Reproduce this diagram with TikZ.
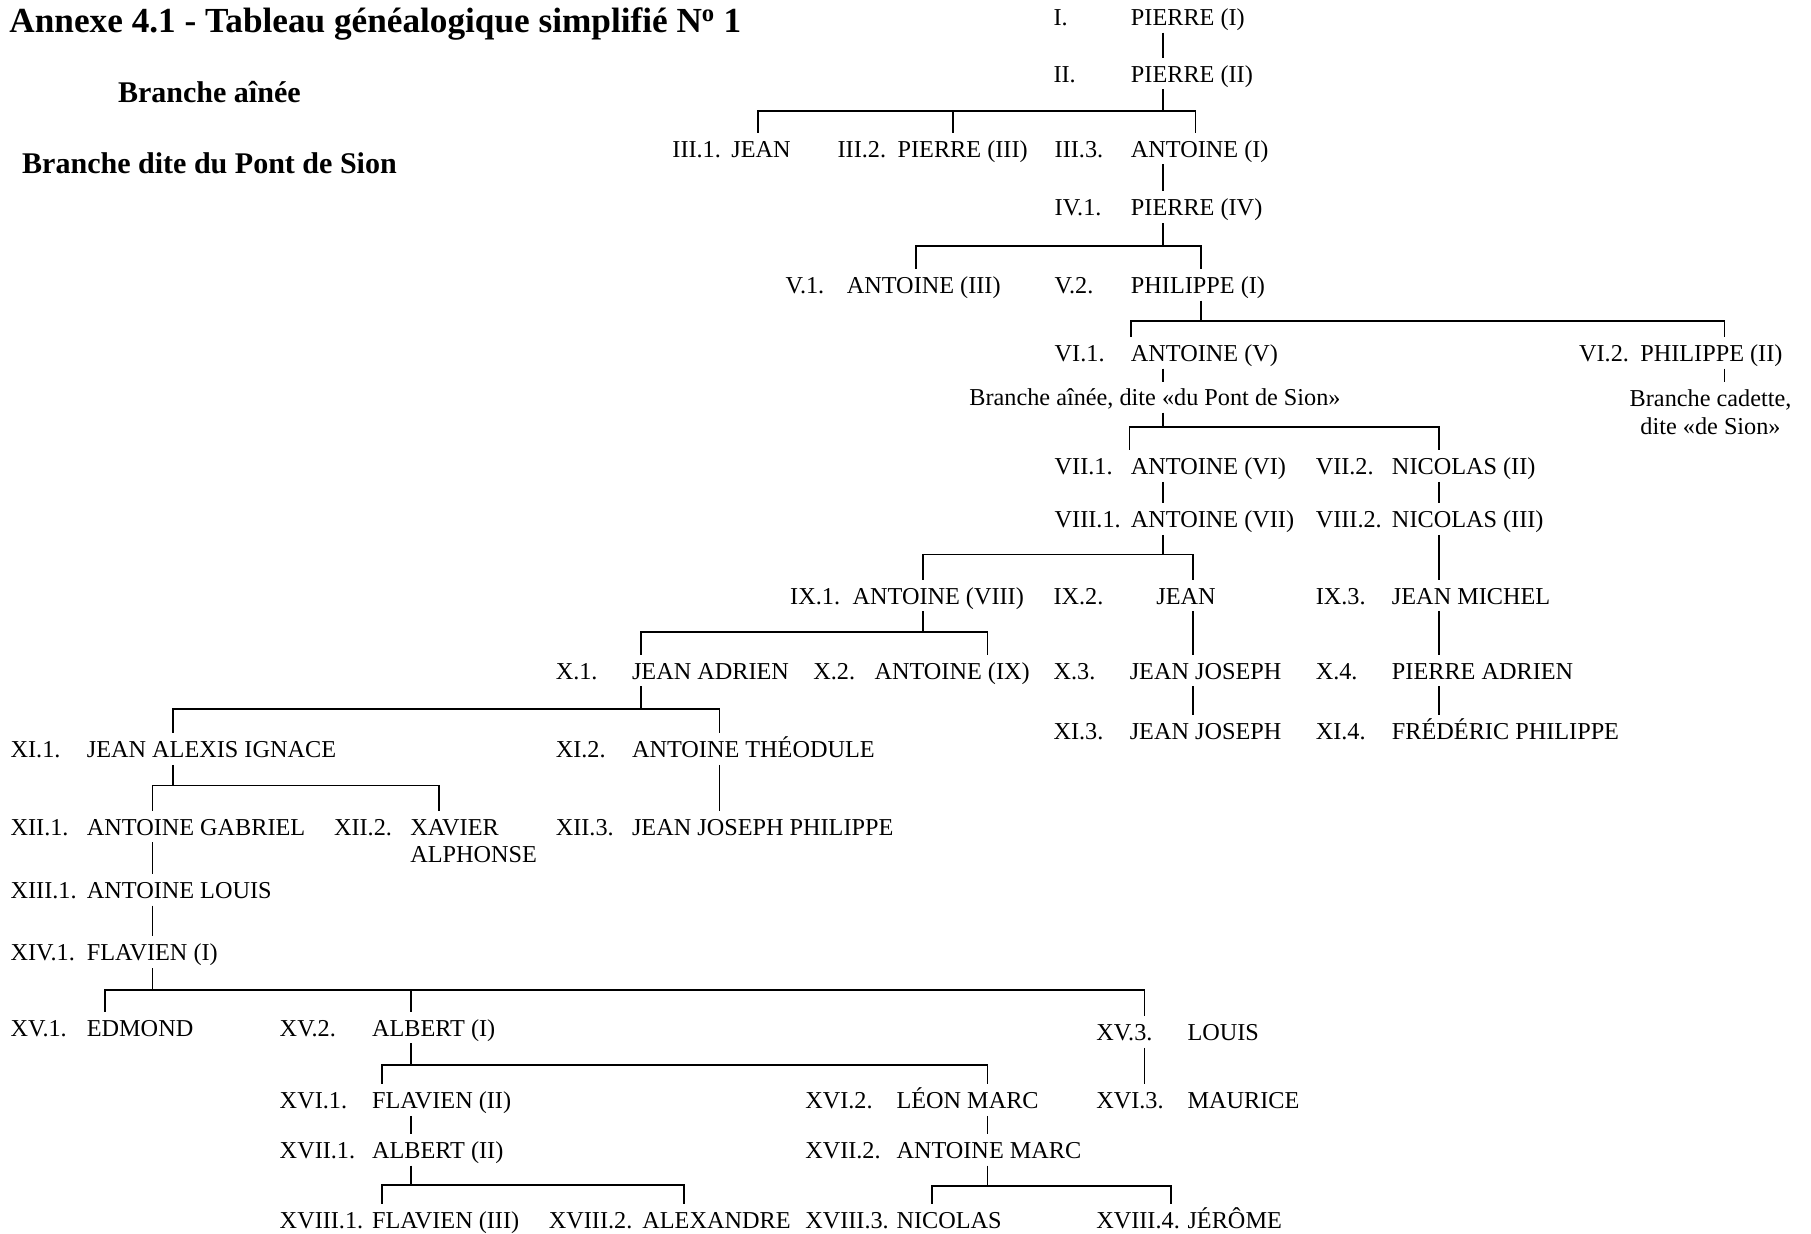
\documentclass[tikz,border=0pt]{standalone}
\usepackage{fontspec}
\setmainfont{Liberation Serif}
\tikzstyle{tree}=[line width=1.5pt]
\tikzstyle{numlabel}=[anchor=base west,inner sep=0pt,font=\fontsize{21}{25}\selectfont]
\tikzstyle{namelabel}=[numlabel,text height=21pt,text depth=6pt]
\tikzstyle{twoline}=[anchor=north west,inner xsep=0pt,inner ysep=7pt,align=left,font=\fontsize{21}{24}\selectfont]
\tikzstyle{note}=[anchor=base,inner sep=0pt,text height=20pt,text depth=6pt,font=\fontsize{21}{24}\selectfont]
\tikzstyle{twonote}=[anchor=north,inner xsep=0pt,inner ysep=6pt,align=center,font=\fontsize{21}{24}\selectfont]
\tikzstyle{heading}=[anchor=base west,inner sep=0pt,font=\bfseries\fontsize{26}{30}\selectfont]
\newcommand{\person}[6]{% Syntax: {node} {label x} {name x} {row y} {label} {name}
\pgfmathsetmacro{\yb}{#4+7} % row y is the middle of the capitals
\node[numlabel] (#1l) at (#2,\yb) {#5};
\node[namelabel] (#1) at (#3,\yb) {#6};
}
\newcommand{\offspring}[4]{% Syntax: {parent} {stem x} {bar y} {child/drop x,...}
\coordinate (stem) at (#2,#3);
\draw[tree] (#1.south -| stem) -- (stem);
  \foreach \c/\x in {#4} {
  \coordinate (drop) at (\x,#3);
  \draw[tree] (stem) -| (\c.north -| drop);
}
}
\begin{document}
\begin{tikzpicture}[x=1pt,y=-1pt]
\useasboundingbox (0,0) rectangle (1568,1068);
	\node[heading,font=\bfseries\fontsize{30.5}{34}\selectfont] (title) at (8,28) {Annexe 4.1 - Tableau généalogique simplifié N\textsuperscript{o} 1};
	\node[heading] (ainee) at (102,89) {Branche aînée};
	\node[heading] (pont) at (19,150) {Branche dite du Pont de Sion};
	% generations I to VI
	\person{p1}{912}{979}{15}{I.}{PIERRE (I)}
	\person{p2}{912}{979}{64}{II.}{PIERRE (II)}
	\person{p31}{582}{633}{129}{III.1.}{JEAN}
	\person{p32}{725}{777}{129}{III.2.}{PIERRE (III)}
	\person{p33}{913}{979}{129}{III.3.}{ANTOINE (I)}
	\person{p41}{913}{979}{180}{IV.1.}{PIERRE (IV)}
	\person{p51}{680}{733}{247}{V.1.}{ANTOINE (III)}
	\person{p52}{913}{979}{247}{V.2.}{PHILIPPE (I)}
	\person{p61}{913}{979}{306}{VI.1.}{ANTOINE (V)}
	\person{p62}{1367}{1420}{306}{VI.2.}{PHILIPPE (II)}
	\node[note] (n61) at (1000,351) {Branche aînée, dite «du Pont de Sion»};
	\node[twonote] (n62) at (1481,331) {Branche cadette,\\dite «de Sion»};
	% generations VII to XI
	\person{p71}{913}{979}{404}{VII.1.}{ANTOINE (VI)}
	\person{p72}{1139}{1205}{404}{VII.2.}{NICOLAS (II)}
	\person{p81}{913}{979}{450}{VIII.1.}{ANTOINE (VII)}
	\person{p82}{1139}{1205}{450}{VIII.2.}{NICOLAS (III)}
	\person{p91}{684}{738}{516}{IX.1.}{ANTOINE (VIII)}
	\person{p92}{912}{1001}{516}{IX.2.}{JEAN}
	\person{p93}{1139}{1205}{516}{IX.3.}{JEAN MICHEL}
	\person{p101}{481}{547}{581}{X.1.}{JEAN ADRIEN}
	\person{p102}{704}{757}{581}{X.2.}{ANTOINE (IX)}
	\person{p103}{912}{978}{581}{X.3.}{JEAN JOSEPH}
	\person{p104}{1139}{1205}{581}{X.4.}{PIERRE ADRIEN}
	\person{p111}{9}{75}{649}{XI.1.}{JEAN ALEXIS IGNACE}
	\person{p112}{481}{547}{649}{XI.2.}{ANTOINE THÉODULE}
	\person{p113}{912}{978}{633}{XI.3.}{JEAN JOSEPH}
	\person{p114}{1139}{1205}{633}{XI.4.}{FRÉDÉRIC PHILIPPE}
	% generations XII to XVIII
	\person{p121}{9}{75}{716}{XII.1.}{ANTOINE GABRIEL}
	\node[numlabel] (p122l) at (289,723) {XII.2.};
	\node[twoline] (p122) at (355,702) {XAVIER\\ALPHONSE};
	\person{p123}{481}{547}{716}{XII.3.}{JEAN JOSEPH PHILIPPE}
	\person{p131}{9}{75}{771}{XIII.1.}{ANTOINE LOUIS}
	\person{p141}{9}{75}{825}{XIV.1.}{FLAVIEN (I)}
	\person{p151}{9}{75}{890}{XV.1.}{EDMOND}
	\person{p152}{242}{322}{890}{XV.2.}{ALBERT (I)}
	\person{p153}{949}{1028}{894}{XV.3.}{LOUIS}
	\person{p161}{242}{322}{953}{XVI.1.}{FLAVIEN (II)}
	\person{p162}{697}{776}{953}{XVI.2.}{LÉON MARC}
	\person{p163}{949}{1028}{953}{XVI.3.}{MAURICE}
	\person{p171}{242}{322}{996}{XVII.1.}{ALBERT (II)}
	\person{p172}{697}{776}{996}{XVII.2.}{ANTOINE MARC}
	\person{p181}{242}{322}{1057}{XVIII.1.}{FLAVIEN (III)}
	\person{p182}{475}{556}{1057}{XVIII.2.}{ALEXANDRE}
	\person{p183}{697}{776}{1057}{XVIII.3.}{NICOLAS}
	\person{p184}{949}{1028}{1057}{XVIII.4.}{JÉRÔME}
	% connectors
	\offspring{p1}{1007}{40}{p2/1007}
	\offspring{p2}{1007}{96}{p31/656,p32/825,p33/1035}
	\offspring{p33}{1007}{155}{p41/1007}
	\offspring{p41}{1007}{213}{p51/793,p52/1040}
	\offspring{p52}{1040}{278}{p61/979,p62/1493}
	\offspring{p61}{1007}{325}{n61/1007}
	\offspring{p62}{1493}{325}{n62/1493}
	\offspring{n61}{1007}{370}{p71/978,p72/1246}
	\offspring{p71}{1007}{427}{p81/1007}
	\offspring{p72}{1246}{427}{p82/1246}
	\offspring{p81}{1007}{480}{p91/799,p92/1033}
	\offspring{p82}{1246}{480}{p93/1246}
	\offspring{p91}{799}{547}{p101/555,p102/855}
	\offspring{p92}{1033}{547}{p103/1033}
	\offspring{p93}{1246}{547}{p104/1246}
	\offspring{p101}{555}{614}{p111/150,p112/623}
	\offspring{p103}{1033}{607}{p113/1033}
	\offspring{p104}{1246}{607}{p114/1246}
	\offspring{p111}{150}{680}{p121/132,p122/380}
	\offspring{p112}{623}{680}{p123/623}
	\offspring{p121}{132}{743}{p131/132}
	\offspring{p131}{132}{797}{p141/132}
	\offspring{p141}{132}{857}{p151/91,p152/356,p153/991}
	\offspring{p152}{356}{922}{p161/331,p162/855}
	\offspring{p153}{991}{922}{p163/991}
	\offspring{p161}{356}{974}{p171/356}
	\offspring{p162}{855}{974}{p172/855}
	\offspring{p171}{356}{1026}{p181/331,p182/592}
	\offspring{p172}{855}{1027}{p183/807,p184/1014}
\end{tikzpicture}
\end{document}
